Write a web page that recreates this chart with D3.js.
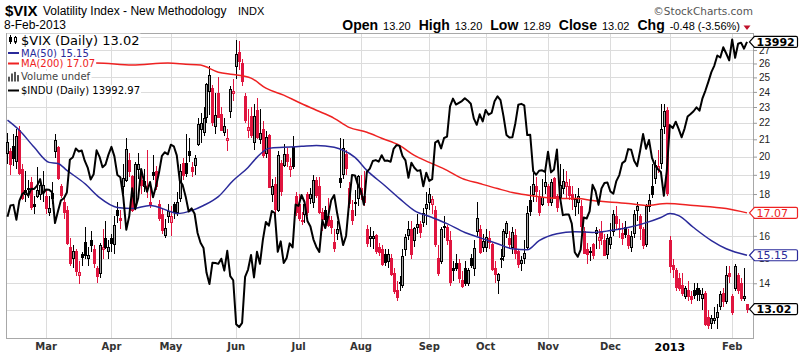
<!DOCTYPE html>
<html><head><meta charset="utf-8">
<script src="https://cdn.jsdelivr.net/npm/d3@7/dist/d3.min.js"></script>
<style>html,body{margin:0;padding:0;background:#fff}svg{display:block}</style>
</head><body>
<svg id="chart" width="800" height="355"></svg>
<script>
// ---------------- DATA ----------------
const firstDay = "2012-02-10", lastDay = "2013-02-08";
const holidays = ["2012-02-20","2012-04-06","2012-05-28","2012-07-04","2012-09-03","2012-10-29","2012-10-30","2012-11-22","2012-12-25","2013-01-01","2013-01-21"];

const vixOpen = [
20.20,20.30,20.60,19.70,21.50,19.30,18.00,18.30,18.60,17.50,17.90,18.00,18.10,
17.90,17.10,17.80,20.30,20.50,18.40,17.60,17.20,15.50,15.00,15.30,14.30,15.20,15.70,15.00,15.80,15.40,14.60,14.40,15.40,15.90,15.30,
15.90,15.60,17.20,16.80,18.40,18.70,19.80,18.90,17.50,19.30,18.70,18.40,18.40,17.60,19.10,19.20,17.50,17.00,16.00,16.90,
16.60,17.50,17.10,17.80,19.60,19.60,20.30,19.40,19.50,20.70,21.60,21.40,22.30,24.00,24.20,21.80,23.90,22.50,21.40,20.90,22.70,23.90,
25.80,26.80,26.00,23.70,21.50,22.40,20.80,22.80,21.00,21.60,20.20,21.20,18.00,18.50,17.20,19.60,19.50,20.10,19.30,20.50,17.90,
17.50,16.70,17.00,18.00,17.80,17.60,18.70,18.40,17.10,17.20,16.90,16.70,15.70,16.10,18.80,19.00,20.10,18.30,17.20,17.60,17.80,
18.30,17.90,16.30,15.90,15.90,16.00,15.50,15.40,15.20,14.90,15.00,14.40,13.70,14.00,13.90,15.40,16.00,16.30,15.80,16.40,16.50,16.60,17.30,
17.60,17.50,17.20,15.00,14.90,16.40,16.40,15.80,14.60,14.80,14.80,14.10,14.60,14.00,15.00,14.60,16.20,16.30,15.50,
15.50,15.90,15.60,14.60,14.10,15.00,15.10,16.10,15.90,15.50,16.00,15.30,14.80,15.00,15.50,17.70,18.00,18.40,17.90,17.50,18.40,
18.40,17.60,18.80,17.90,17.80,18.30,18.40,18.40,18.00,17.40,17.60,17.40,16.20,15.40,15.30,15.60,16.10,15.80,16.20,15.80,15.20,
15.60,16.20,16.90,16.30,16.10,16.40,16.00,15.50,16.10,17.20,16.90,16.30,15.60,17.40,18.40,18.80,19.30,19.60,21.80,22.80,
15.80,14.70,14.50,14.20,13.90,13.50,13.70,13.50,13.70,13.80,13.70,13.40,13.60,12.70,12.50,12.60,12.70,13.10,13.60,13.30,14.40,
13.50,13.80,14.30,14.00,13.40,13.20];

const vixHigh = [
21.40,20.50,21.30,21.60,21.80,19.60,19.20,18.70,18.90,17.90,19.40,18.60,19.20,
18.20,17.90,18.60,21.30,20.60,18.50,17.90,17.40,15.90,15.60,15.40,14.90,15.30,16.40,15.50,16.20,15.60,14.70,15.70,16.30,16.70,15.80,
16.10,16.90,17.60,17.20,19.60,21.10,20.20,19.00,19.70,20.20,19.00,19.30,20.40,18.40,20.10,19.50,17.70,17.30,16.80,17.50,
17.40,17.60,18.10,19.60,19.90,21.30,21.10,19.70,20.10,22.30,22.60,23.00,24.60,25.80,24.50,23.90,25.00,23.00,22.30,21.60,24.40,24.90,
27.80,27.70,26.30,23.90,22.90,23.00,23.20,23.60,22.90,22.10,21.50,21.30,18.80,18.90,20.30,19.80,20.70,20.50,19.90,21.20,18.10,
18.00,17.10,17.70,18.10,18.30,19.00,18.90,18.90,17.30,17.40,17.80,16.90,16.30,16.70,21.10,21.00,20.40,18.60,17.70,18.20,19.00,
19.00,19.20,16.50,16.40,16.20,16.10,15.70,15.60,15.40,15.40,15.20,14.60,14.10,14.30,15.40,16.10,16.70,16.70,16.40,17.00,16.70,17.30,18.10,
18.30,17.90,17.40,15.60,16.40,16.90,16.50,16.20,14.90,15.20,15.00,14.50,14.90,14.60,15.20,15.80,17.60,16.50,16.10,
16.30,16.20,15.70,14.90,14.40,15.40,16.30,16.70,16.20,16.40,16.30,15.40,15.10,15.80,17.40,18.40,19.10,18.90,18.20,18.80,19.40,
18.50,18.80,18.90,18.00,19.60,19.30,19.20,18.80,18.40,18.00,18.30,17.70,16.40,15.70,15.50,15.70,16.40,16.30,16.70,16.10,16.10,
16.60,17.20,17.40,16.80,16.60,16.70,16.30,16.20,17.20,17.60,17.00,16.40,17.50,18.00,19.60,19.80,20.40,23.20,23.20,23.00,
16.00,15.00,14.60,14.40,14.40,13.90,14.10,13.70,14.00,14.00,13.80,13.80,13.70,13.00,12.80,13.10,13.20,13.70,13.80,14.70,14.70,
13.60,14.80,14.40,14.20,14.60,13.20];

const vixLow = [
19.60,19.00,19.50,19.30,19.00,17.70,17.60,17.80,17.20,17.00,17.80,17.70,17.60,
17.00,16.90,17.50,19.90,18.70,17.80,16.80,15.60,14.70,14.60,14.30,13.99,14.70,15.00,14.70,15.30,14.60,14.00,14.20,15.00,15.40,15.00,
15.30,15.20,16.60,16.30,18.00,18.60,18.90,17.10,17.40,18.80,18.00,18.10,17.80,17.30,18.70,18.20,16.70,16.10,15.90,16.60,
16.00,16.80,16.90,17.60,18.70,18.90,19.70,18.90,19.00,20.60,20.80,21.20,22.00,22.50,21.80,21.30,22.30,21.50,21.20,20.30,22.30,23.40,
24.90,25.50,24.40,22.00,21.10,21.10,20.40,21.00,20.70,19.90,19.90,18.30,17.60,16.90,17.10,17.90,19.40,19.40,18.90,19.30,16.90,
16.70,16.50,16.60,16.90,17.50,17.30,17.80,17.00,16.20,16.50,16.40,16.10,15.30,15.80,18.30,18.80,19.00,17.30,16.50,16.90,17.40,
17.70,17.40,15.50,15.50,15.40,15.20,15.10,14.70,14.70,14.60,14.30,13.60,13.30,13.70,13.80,15.10,15.80,15.00,15.50,16.10,15.90,16.40,16.50,
17.20,17.00,15.50,14.30,14.80,15.90,15.60,13.90,14.10,14.50,14.00,13.80,13.90,13.90,14.60,14.30,16.00,15.20,15.30,
15.30,15.40,14.50,14.00,13.60,14.60,14.90,15.90,15.40,15.20,15.00,14.60,14.50,14.80,15.40,16.90,17.60,17.60,16.90,17.40,18.00,
17.40,17.40,17.80,17.10,17.70,18.00,17.80,17.70,17.20,16.90,17.00,16.20,15.20,14.80,14.90,15.00,15.40,15.40,15.60,15.10,15.00,
15.40,16.00,16.30,15.90,15.60,15.90,15.40,15.30,15.90,16.70,15.80,15.40,15.50,17.10,17.80,18.50,19.10,19.30,21.30,17.90,
14.40,14.20,13.70,13.70,13.50,13.40,13.30,13.20,13.40,13.30,13.30,13.00,12.40,12.30,12.30,12.50,12.30,13.00,13.10,13.20,14.00,
12.80,13.70,13.60,13.30,13.30,12.89];

const vixClose = [
20.79,19.54,19.88,21.14,19.07,17.78,18.19,18.24,17.31,17.40,18.19,18.43,18.43,
17.26,17.29,18.05,20.91,18.80,17.95,17.11,15.64,14.80,15.31,14.47,14.45,15.04,15.13,15.13,15.57,14.82,14.26,15.59,15.47,15.48,15.50,
15.64,16.48,16.94,16.70,18.81,20.39,19.18,17.20,19.55,19.55,18.46,18.64,18.35,17.44,18.97,18.37,16.82,16.24,16.32,17.15,
16.88,17.07,17.56,19.16,18.94,19.05,20.08,19.17,19.89,21.87,21.97,22.27,24.49,25.10,22.01,22.48,22.33,21.54,21.76,21.03,24.14,24.06,
26.66,26.12,24.68,22.16,21.72,21.23,22.38,21.11,21.36,20.08,21.11,18.32,18.38,17.24,20.08,18.11,20.11,19.72,19.45,19.45,17.08,
16.80,16.66,17.50,17.10,17.98,18.72,17.95,17.08,16.74,16.74,16.48,16.39,15.45,16.27,18.62,20.47,19.34,17.53,16.70,17.57,18.93,
17.96,17.57,15.64,15.95,15.99,15.32,15.28,14.74,14.85,15.18,14.37,13.67,13.45,14.02,15.11,15.91,16.27,15.18,16.35,16.52,16.15,17.06,17.47,
17.98,17.74,15.60,14.38,16.28,16.41,15.80,14.05,14.51,14.59,14.18,13.88,13.98,14.51,14.72,15.43,16.81,15.28,15.73,
15.92,15.71,14.55,14.33,14.33,14.95,16.20,16.58,15.60,16.14,15.21,14.77,14.94,15.22,17.06,17.14,18.49,18.13,17.10,17.81,18.60,
17.58,18.59,17.85,17.32,18.45,18.64,18.61,17.92,17.73,17.74,17.89,16.41,15.24,15.19,15.31,15.14,16.25,15.92,15.90,15.15,15.87,
15.92,16.98,16.58,16.34,15.90,16.05,15.57,15.95,17.00,17.36,16.34,15.57,17.36,17.67,18.00,19.52,19.47,21.56,22.72,18.02,
14.68,14.56,13.83,13.79,13.62,13.81,13.49,13.36,13.52,13.55,13.57,13.58,12.46,12.43,12.69,12.69,12.89,13.57,13.31,14.32,14.28,
12.90,14.67,13.72,13.41,13.50,13.02];

const induClose = [
12801,12874,12878,12781,12904,12950,12966,12938,12985,12983,13005,13048,12952,
12980,12978,12962,12759,12837,12908,12922,12960,13177,13194,13253,13233,13240,13171,13125,13046,13080,13241,13197,13127,13146,13212,
13264,13200,13075,13060,12929,12716,12805,12987,12850,12921,13115,13033,12965,13029,12928,13001,13090,13204,13228,13214,
13279,13268,13207,13038,13008,12932,12835,12855,12820,12695,12632,12599,12442,12369,12504,12502,12497,12530,12454,12580,12419,12393,
12118,12101,12127,12414,12461,12554,12411,12574,12497,12652,12767,12742,12838,12825,12574,12641,12503,12535,12628,12602,12880,
12871,12943,12897,12773,12737,12654,12605,12573,12777,12727,12806,12909,12943,12823,12722,12617,12676,12888,13075,13073,13009,
12971,12879,13096,13118,13169,13175,13165,13208,13170,13172,13164,13250,13276,13271,13203,13173,13057,13158,13124,13103,13108,13001,13091,
13036,13048,13293,13307,13254,13324,13333,13540,13594,13553,13565,13577,13597,13580,13559,13458,13414,13486,13437,
13515,13483,13495,13576,13610,13584,13473,13345,13327,13329,13425,13552,13558,13548,13344,13346,13102,13077,13104,13107,13096,
13232,13093,13112,13246,12932,12811,12815,12815,12756,12571,12542,12588,12796,12789,12836,13010,12968,12878,12986,13022,13026,
12966,12952,13035,13075,13155,13170,13249,13245,13171,13135,13236,13351,13251,13311,13190,13139,13114,13096,12938,13104,
13412,13391,13435,13385,13329,13390,13471,13488,13507,13534,13511,13596,13650,13712,13779,13825,13896,13882,13954,13910,13861,
14010,13880,13979,13987,13944,13992];

// moving averages: [trading-day index, value]
const ma50 = [[0,22.16],[4,21.54],[9,20.53],[14,19.68],[17,19.62],[20,19.24],[26,18.54],[31,17.82],[37,17.33],[42,17.28],[48,17.43],[54,17.18],[57,17.04],[62,17.18],[66,17.43],[71,17.87],[76,18.70],[81,19.40],[84,19.96],[88,20.47],[93,20.53],[99,20.59],[104,20.64],[110,20.53],[113,20.36],[117,19.96],[121,19.24],[127,18.44],[132,17.77],[137,17.18],[143,16.85],[148,16.56],[154,16.15],[159,15.92],[165,15.65],[170,15.43],[175,15.39],[179,15.79],[185,16.10],[191,16.19],[197,16.15],[203,16.24],[209,16.38],[214,16.56],[220,16.85],[223,17.04],[226,16.94],[231,16.38],[237,15.79],[242,15.43],[249,15.15]];
const ma200 = [[0,26.00],[13,26.00],[30,26.03],[42,25.88],[54,26.03],[60,25.95],[65,25.88],[71,25.37],[76,25.20],[82,24.95],[87,24.25],[93,23.78],[98,23.31],[104,22.79],[110,22.28],[115,21.72],[121,21.42],[126,21.06],[132,20.64],[137,20.07],[142,19.68],[148,19.24],[153,18.81],[159,18.54],[165,18.28],[170,18.08],[176,17.93],[181,17.82],[187,17.77],[192,17.77],[197,17.67],[209,17.53],[215,17.43],[222,17.53],[231,17.43],[242,17.28],[249,17.07]];

const vixTickLabels = [14,15,16,18,19,20,21,22,23,24,25,26,27];   // 13 and 17 sit fully under the value tags
const vixTickMarks = [13,14,15,16,17,18,19,20,21,22,23,24,25,26,27];
const gridTicks = [13,14,15,16,17,18,19,20,21,22,23,24,25,26,27,28];

const headerStats = [["Open","13.20"],["High","13.20"],["Low","12.89"],["Close","13.02"],["Chg","-0.48 (-3.56%)"]];
const legendRows = [
  {label:"$VIX (Daily) 13.02", color:"#000", icon:"candle"},
  {label:"MA(50) 15.15", color:"#2a2a9a", icon:"line"},
  {label:"MA(200) 17.07", color:"#ee2222", icon:"line"},
  {label:"Volume undef", color:"#444", icon:"bars"},
  {label:"$INDU (Daily) 13992.97", color:"#000", icon:"line"}];

// ---------------- BUILD ----------------
const parse = d3.utcParse("%Y-%m-%d"), fmt = d3.utcFormat("%Y-%m-%d");
const dates = d3.utcDays(parse(firstDay), d3.utcDay.offset(parse(lastDay), 1))
  .filter(d => d.getUTCDay() % 6 !== 0 && !holidays.includes(fmt(d))).map(fmt);

const SANS = "'Liberation Sans', Arial, sans-serif";
const VERD = "'DejaVu Sans', Verdana, sans-serif";
const RED = "#e0153f", RED_H = "#f29aac", BLK_H = "#a4a4a4";
const MA50C = "#2a2a9a", MA200C = "#ee2222";

const PL = 6, PR = 753, PT = 33, PB = 338;
const svg = d3.select("#chart");

const x = d3.scaleBand().domain(dates).range([PL, 748.5]);
const cx = d => x(d) + x.bandwidth() / 2;
const y = d3.scaleLog().domain([12, 28.33]).range([PB, PT]);
const yI = d3.scaleLog().domain([12034, 14056]).range([PB, PT]);

const monthStarts = dates.filter((d, i) => i > 0 && d.slice(0, 7) !== dates[i - 1].slice(0, 7));
const monthLabel = d => d.slice(5, 7) === "01" ? d.slice(0, 4) : d3.utcFormat("%b")(parse(d));

// grid
const grid = svg.append("g").attr("shape-rendering", "crispEdges");
grid.selectAll("line.h").data(gridTicks).join("line").attr("class", "h")
  .attr("x1", PL).attr("x2", PR).attr("y1", d => Math.round(y(d)) + 0.5).attr("y2", d => Math.round(y(d)) + 0.5)
  .attr("stroke", "#dcdcdc");
grid.selectAll("line.v").data(monthStarts).join("line").attr("class", "v")
  .attr("y1", PT).attr("y2", PB).attr("x1", d => Math.round(cx(d)) + 0.5).attr("x2", d => Math.round(cx(d)) + 0.5)
  .attr("stroke", "#dcdcdc");

// frame
svg.append("rect").attr("x", PL + 0.5).attr("y", PT + 0.5).attr("width", PR - PL).attr("height", PB - PT)
  .attr("fill", "none").attr("stroke", "#a8a8a8").attr("shape-rendering", "crispEdges");

// candles
const days = dates.map((d, i) => ({ d, i, o: vixOpen[i], h: vixHigh[i], l: vixLow[i], c: vixClose[i] }));
const up = k => k.i === 0 || k.c >= vixClose[k.i - 1];
const col = k => up(k) ? "#000" : RED;
const hollow = k => k.c > k.o;
const cg = svg.append("g").attr("shape-rendering", "crispEdges").selectAll("g").data(days).join("g");
cg.append("line")
  .attr("x1", k => Math.round(cx(k.d)) + 0.5).attr("x2", k => Math.round(cx(k.d)) + 0.5)
  .attr("y1", k => y(Math.max(k.h, k.o, k.c))).attr("y2", k => y(Math.min(k.l, k.o, k.c)))
  .attr("stroke", col);
cg.append("rect")
  .attr("x", k => Math.round(cx(k.d)) - 0.5).attr("width", 2)
  .attr("y", k => y(Math.max(k.o, k.c)))
  .attr("height", k => Math.max(1, y(Math.min(k.o, k.c)) - y(Math.max(k.o, k.c))))
  .attr("fill", k => hollow(k) ? (up(k) ? BLK_H : RED_H) : col(k))
  .attr("stroke", col);

// moving averages
const maLine = d3.line().x(p => cx(dates[p[0]])).y(p => y(p[1])).curve(d3.curveMonotoneX);
svg.append("path").attr("d", maLine(ma200)).attr("fill", "none").attr("stroke", MA200C).attr("stroke-width", 1.5);
svg.append("path").attr("d", maLine(ma50)).attr("fill", "none").attr("stroke", MA50C).attr("stroke-width", 1.5);

// INDU overlay
const induLine = d3.line().x((v, i) => cx(dates[i])).y(v => yI(v));
svg.append("path").attr("d", induLine(induClose)).attr("fill", "none").attr("stroke", "#000")
  .attr("stroke-width", 2).attr("stroke-linejoin", "round");

// right axis
const yAxis = d3.axisRight(y).tickValues(vixTickMarks).tickSize(4).tickPadding(2)
  .tickFormat(d => vixTickLabels.includes(d) ? d3.format("d")(d) : "");
const ga = svg.append("g").attr("transform", `translate(${PR},0)`).call(yAxis);
ga.select(".domain").remove();
ga.selectAll(".tick line").attr("stroke", "#999");
ga.selectAll(".tick text").attr("font-family", SANS).attr("font-size", 10).attr("fill", "#222");
ga.selectAll(".tick").filter(d => !vixTickLabels.includes(d)).select("text").remove();

// bottom axis
const xAxis = d3.axisBottom(x).tickValues(monthStarts).tickSize(0).tickPadding(5).tickFormat(monthLabel);
const gx = svg.append("g").attr("transform", `translate(0,${PB})`).call(xAxis);
gx.select(".domain").remove();
gx.selectAll(".tick text").attr("font-family", VERD).attr("font-weight", "bold")
  .attr("font-size", d => d.slice(5, 7) === "01" ? 11 : 10)
  .attr("fill", d => d.slice(5, 7) === "01" ? "#000" : "#333");

// value tags
function tag(yy, label, color, bold) {
  const g = svg.append("g").attr("transform", `translate(749.5,${yy})`);
  g.append("path").attr("d", "M0,0 L5,-5.5 H46.5 Q48,-5.5 48,-4 V4 Q48,5.5 46.5,5.5 H5 Z")
    .attr("fill", "#fff").attr("stroke", color).attr("stroke-width", 1.2);
  g.append("text").attr("x", 7).attr("dy", "0.37em").attr("font-family", VERD)
    .attr("font-size", 11).attr("font-weight", bold ? "bold" : "normal").attr("fill", color).text(label);
}
tag(yI(induClose[induClose.length - 1]), d3.format("d")(induClose[induClose.length - 1]), "#000", true);
tag(y(ma200[ma200.length - 1][1]), ma200[ma200.length - 1][1].toFixed(2), MA200C, false);
tag(y(ma50[ma50.length - 1][1]), ma50[ma50.length - 1][1].toFixed(2), MA50C, false);
tag(y(vixClose[vixClose.length - 1]), vixClose[vixClose.length - 1].toFixed(2), "#000", true);

// legend
const rowY = [40, 53, 63.5, 76.5, 90.5];
const rowSize = [13, 10, 10, 10, 10];
const lg = svg.append("g");
legendRows.forEach((r, i) => {
  const g = lg.append("g").attr("transform", `translate(0,${rowY[i]})`);
  const bg = g.append("rect").attr("fill", "#fff");
  const t = g.append("text").attr("x", 21).attr("dy", "0.36em").attr("font-family", VERD)
    .attr("font-size", rowSize[i]).attr("fill", r.color).text(r.label);
  const bb = t.node().getBBox();
  const hh = i === 0 ? 13 : 11;
  bg.attr("x", 7).attr("y", -hh / 2).attr("width", bb.x + bb.width - 6).attr("height", hh);
  if (r.icon === "line") {
    g.append("line").attr("x1", 8).attr("x2", 19).attr("y1", 0).attr("y2", 0).attr("stroke", r.color).attr("stroke-width", 2);
  } else if (r.icon === "candle") {
    g.append("line").attr("x1", 10.5).attr("x2", 10.5).attr("y1", -5).attr("y2", 4).attr("stroke", "#000");
    g.append("rect").attr("x", 9).attr("y", -3).attr("width", 3).attr("height", 5).attr("fill", "#000");
    g.append("line").attr("x1", 15.5).attr("x2", 15.5).attr("y1", -4).attr("y2", 4).attr("stroke", "#000");
    g.append("rect").attr("x", 14.5).attr("y", -2.5).attr("width", 2).attr("height", 4.5).attr("fill", "#fff").attr("stroke", "#000");
  } else if (r.icon === "bars") {
    [[8, 3], [11, 5], [14, 6], [17, 4]].forEach(b => g.append("rect").attr("x", b[0]).attr("y", 5 - b[1] * 1.6)
      .attr("width", 2).attr("height", b[1] * 1.6).attr("fill", "#555"));
  }
});

// header
svg.append("text").attr("x", 5).attr("y", 16).attr("font-family", SANS).attr("font-weight", "bold")
  .attr("font-size", 15).attr("fill", "#000").text("$VIX");
svg.append("text").attr("x", 43).attr("y", 15).attr("font-family", SANS).attr("font-size", 12)
  .attr("fill", "#000").text("Volatility Index - New Methodology");
svg.append("text").attr("x", 238).attr("y", 15).attr("font-family", SANS).attr("font-size", 11)
  .attr("fill", "#000").text("INDX");
svg.append("text").attr("x", 4).attr("y", 29).attr("font-family", SANS).attr("font-size", 12)
  .attr("fill", "#000").text("8-Feb-2013");
svg.append("text").attr("x", 753).attr("y", 15).attr("text-anchor", "end").attr("font-family", VERD)
  .attr("font-size", 10.5).attr("fill", "#555").text("\u00A9StockCharts.com");
const hs = svg.append("text").attr("x", 740).attr("y", 30).attr("text-anchor", "end").attr("font-family", SANS).attr("fill", "#000");
headerStats.forEach((s, i) => {
  hs.append("tspan").attr("dx", i ? 8 : 0).attr("font-weight", "bold").attr("font-size", 14).text(s[0]);
  hs.append("tspan").attr("dx", 5).attr("font-size", 11).text(s[1]);
});
svg.append("path").attr("d", "M743.5,25.5 L750.5,25.5 L747,30 Z").attr("fill", "#c0102a");
</script>
</body></html>
